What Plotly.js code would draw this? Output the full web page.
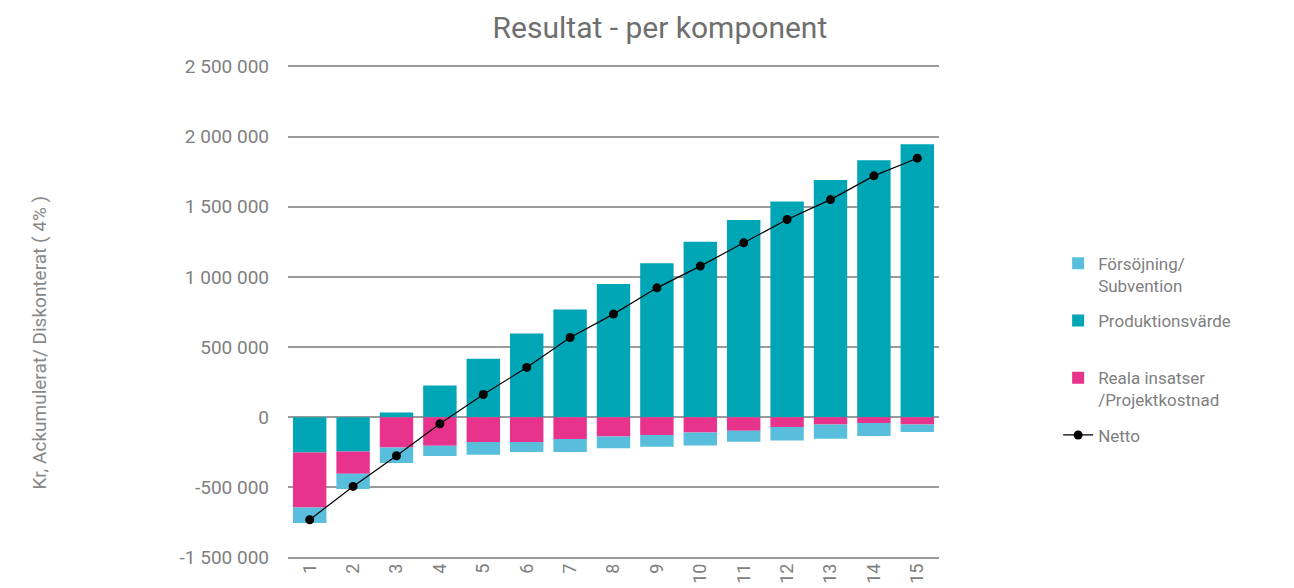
<!DOCTYPE html>
<html>
<head>
<meta charset="utf-8">
<script src="https://cdn.plot.ly/plotly-3.0.1.min.js"></script>
<style>html,body{margin:0;padding:0;background:#fff;}#chart{width:1294px;height:588px;}</style>
</head>
<body>
<div id="chart"></div>
<script>
var years = ['1','2','3','4','5','6','7','8','9','10','11','12','13','14','15'];
var produktionsvarde = [-251000,-244000,34000,227000,417000,597000,768000,949000,1098000,1250000,1405000,1537000,1690000,1832000,1946000];
var realaInsatser = [-392000,-159000,-215000,-203000,-177000,-177000,-155000,-137000,-127000,-108000,-96000,-70000,-51000,-41000,-51000];
var forsorjning = [-111000,-109000,-111000,-73000,-90000,-71000,-93000,-83000,-83000,-93000,-78000,-95000,-102000,-93000,-54000];
var netto = [-730000,-493000,-274000,-46000,162000,355000,568000,735000,922000,1077000,1243000,1409000,1551000,1720000,1846000];
var yTickVals = [-1000000,-500000,0,500000,1000000,1500000,2000000,2500000];
var yTickText = ['-1 500 000','-500 000','0','500 000','1 000 000','1 500 000','2 000 000','2 500 000'];

var gray = '#808080';
var traces = [
  {type:'bar', name:'Produktionsvärde<br> ', x:years, y:produktionsvarde, marker:{color:'#00A6B6'}, legendrank:2, legendgroup:'b'},
  {type:'bar', name:'Reala insatser<br>/Projektkostnad', x:years, y:realaInsatser, marker:{color:'#E8338C'}, legendrank:3, legendgroup:'c'},
  {type:'bar', name:'Försöjning/<br>Subvention', x:years, y:forsorjning, marker:{color:'#58BEDC'}, legendrank:1, legendgroup:'a'},
  {type:'scatter', mode:'lines+markers', name:'Netto', x:years, y:netto,
   line:{color:'#000', width:1.2}, marker:{color:'#000', size:9}, legendrank:4, legendgroup:'d'}
];

var layout = {
  width:1294, height:588,
  margin:{l:288, r:355, t:64.6, b:29.3},
  paper_bgcolor:'#fff', plot_bgcolor:'#fff',
  barmode:'relative', bargap:0.23,
  font:{family:'Roboto, sans-serif', color:gray},
  title:{text:'Resultat - per komponent', font:{size:30, color:'#6f6f6f', family:'Roboto, sans-serif'},
         x:0.51, xref:'container', xanchor:'center', y:0.954, yref:'container', yanchor:'middle'},
  xaxis:{type:'category', range:[-0.5,14.5], tickangle:-90, tickfont:{size:18, color:gray}, showgrid:false, zeroline:false,
         showline:false, ticks:''},
  yaxis:{range:[-1010000,2510000], tickvals:yTickVals, ticktext:yTickText, tickfont:{size:19, color:gray},
         showgrid:true, gridcolor:'#9a9a9a', gridwidth:2, zeroline:false, showline:false, ticks:'',
         ticklabelstandoff:18},
  legend:{x:1.183, xanchor:'left', y:0.634, yanchor:'top', font:{size:17, color:gray},
          tracegroupgap:10, valign:'top', traceorder:'grouped'},
  annotations:[{text:'Kr, Ackumulerat/ Diskonterat ( 4% )', textangle:-90, showarrow:false,
    xref:'paper', yref:'paper', x:-0.381, y:0.438, xanchor:'center', yanchor:'middle',
    font:{size:19, color:'#888'}}]
};
Plotly.newPlot('chart', traces, layout, {displayModeBar:false, staticPlot:true});
</script>
</body>
</html>
